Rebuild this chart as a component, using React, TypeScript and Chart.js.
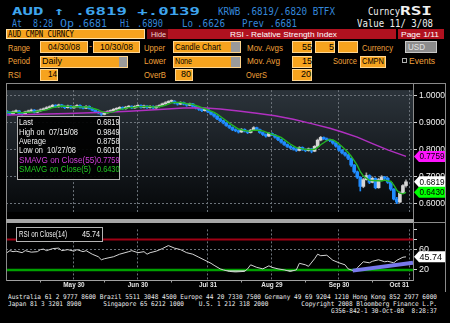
import React, { useEffect, useLayoutEffect, useRef } from "react";
import { Chart, registerables } from "chart.js";

Chart.register(...registerables);

// ---------- data ----------
const opens = [
  0.9430, 0.9390, 0.9330, 0.9410, 0.9440, 0.9350, 0.9320, 0.9400, 0.9430, 0.9470,
  0.9390, 0.9440, 0.9480, 0.9520, 0.9560, 0.9590, 0.9650, 0.9590, 0.9660, 0.9600,
  0.9560, 0.9620, 0.9550, 0.9600, 0.9640, 0.9570, 0.9540, 0.9610, 0.9530, 0.9470,
  0.9400, 0.9370, 0.9310, 0.9370, 0.9420, 0.9450, 0.9500, 0.9520, 0.9570, 0.9520,
  0.9580, 0.9610, 0.9550, 0.9610, 0.9640, 0.9570, 0.9620, 0.9560, 0.9610, 0.9550,
  0.9600, 0.9640, 0.9700, 0.9740, 0.9790, 0.9800, 0.9730, 0.9690, 0.9750, 0.9690,
  0.9650, 0.9700, 0.9610, 0.9550, 0.9500, 0.9450, 0.9490, 0.9400, 0.9320, 0.9250,
  0.9150, 0.9080, 0.9000, 0.8900, 0.8830, 0.8750, 0.8710, 0.8660, 0.8760, 0.8690,
  0.8640, 0.8730, 0.8820, 0.8750, 0.8640, 0.8570, 0.8510, 0.8610, 0.8550, 0.8470,
  0.8380, 0.8290, 0.8200, 0.8130, 0.8080, 0.8030, 0.7980, 0.8090, 0.8010, 0.7970,
  0.8040, 0.7950, 0.8130, 0.8360, 0.8460, 0.8410, 0.8370, 0.8340, 0.8250, 0.8140,
  0.7990, 0.7890, 0.7810, 0.7690, 0.7440, 0.7190, 0.6990, 0.6650, 0.6900, 0.7050,
  0.6800, 0.6950, 0.6600, 0.6900, 0.7000, 0.6950, 0.6800, 0.6550, 0.6180, 0.6070,
  0.6400, 0.6681,
];
const highs = [
  0.9460, 0.9410, 0.9440, 0.9480, 0.9460, 0.9380, 0.9430, 0.9470, 0.9510, 0.9490,
  0.9470, 0.9520, 0.9550, 0.9600, 0.9630, 0.9680, 0.9670, 0.9690, 0.9680, 0.9630,
  0.9650, 0.9640, 0.9630, 0.9670, 0.9660, 0.9600, 0.9640, 0.9630, 0.9550, 0.9490,
  0.9430, 0.9390, 0.9400, 0.9450, 0.9480, 0.9530, 0.9560, 0.9600, 0.9590, 0.9610,
  0.9640, 0.9630, 0.9640, 0.9670, 0.9660, 0.9650, 0.9640, 0.9640, 0.9630, 0.9630,
  0.9670, 0.9730, 0.9780, 0.9820, 0.9849, 0.9820, 0.9750, 0.9780, 0.9770, 0.9710,
  0.9730, 0.9720, 0.9630, 0.9570, 0.9520, 0.9520, 0.9500, 0.9420, 0.9340, 0.9270,
  0.9170, 0.9100, 0.9020, 0.8920, 0.8850, 0.8780, 0.8740, 0.8790, 0.8780, 0.8710,
  0.8760, 0.8860, 0.8840, 0.8770, 0.8660, 0.8590, 0.8640, 0.8630, 0.8570, 0.8490,
  0.8400, 0.8310, 0.8220, 0.8160, 0.8100, 0.8050, 0.8120, 0.8110, 0.8040, 0.8070,
  0.8060, 0.8160, 0.8400, 0.8500, 0.8480, 0.8440, 0.8400, 0.8360, 0.8270, 0.8160,
  0.8010, 0.7920, 0.7840, 0.7710, 0.7460, 0.7220, 0.7010, 0.6950, 0.7150, 0.7080,
  0.7000, 0.6970, 0.6950, 0.7050, 0.7020, 0.6980, 0.6820, 0.6570, 0.6250, 0.6450,
  0.6720, 0.6890,
];
const lows = [
  0.9340, 0.9290, 0.9300, 0.9390, 0.9320, 0.9280, 0.9300, 0.9380, 0.9410, 0.9360,
  0.9370, 0.9420, 0.9460, 0.9500, 0.9530, 0.9570, 0.9560, 0.9570, 0.9570, 0.9520,
  0.9540, 0.9520, 0.9530, 0.9580, 0.9540, 0.9510, 0.9520, 0.9500, 0.9440, 0.9370,
  0.9330, 0.9270, 0.9290, 0.9350, 0.9400, 0.9430, 0.9480, 0.9500, 0.9490, 0.9500,
  0.9560, 0.9520, 0.9530, 0.9590, 0.9540, 0.9550, 0.9530, 0.9540, 0.9520, 0.9530,
  0.9580, 0.9620, 0.9680, 0.9720, 0.9760, 0.9700, 0.9650, 0.9670, 0.9660, 0.9610,
  0.9630, 0.9580, 0.9510, 0.9460, 0.9410, 0.9430, 0.9370, 0.9290, 0.9210, 0.9120,
  0.9040, 0.8960, 0.8870, 0.8790, 0.8710, 0.8670, 0.8620, 0.8640, 0.8660, 0.8600,
  0.8620, 0.8710, 0.8720, 0.8610, 0.8530, 0.8470, 0.8490, 0.8520, 0.8430, 0.8340,
  0.8250, 0.8160, 0.8090, 0.8040, 0.7990, 0.7940, 0.7960, 0.7980, 0.7930, 0.7950,
  0.7890, 0.7930, 0.8110, 0.8330, 0.8380, 0.8330, 0.8300, 0.8210, 0.8100, 0.7950,
  0.7850, 0.7770, 0.7640, 0.7390, 0.7140, 0.6940, 0.6480, 0.6600, 0.6880, 0.6750,
  0.6780, 0.6560, 0.6580, 0.6870, 0.6900, 0.6760, 0.6500, 0.6150, 0.6010, 0.6050,
  0.6380, 0.6626,
];
const closes = [
  0.9390, 0.9330, 0.9410, 0.9440, 0.9350, 0.9320, 0.9400, 0.9430, 0.9470, 0.9390,
  0.9440, 0.9480, 0.9520, 0.9560, 0.9590, 0.9650, 0.9590, 0.9660, 0.9600, 0.9560,
  0.9620, 0.9550, 0.9600, 0.9640, 0.9570, 0.9540, 0.9610, 0.9530, 0.9470, 0.9400,
  0.9370, 0.9310, 0.9370, 0.9420, 0.9450, 0.9500, 0.9520, 0.9570, 0.9520, 0.9580,
  0.9610, 0.9550, 0.9610, 0.9640, 0.9570, 0.9620, 0.9560, 0.9610, 0.9550, 0.9600,
  0.9640, 0.9700, 0.9740, 0.9790, 0.9800, 0.9730, 0.9690, 0.9750, 0.9690, 0.9650,
  0.9700, 0.9610, 0.9550, 0.9500, 0.9450, 0.9490, 0.9400, 0.9320, 0.9250, 0.9150,
  0.9080, 0.9000, 0.8900, 0.8830, 0.8750, 0.8710, 0.8660, 0.8760, 0.8690, 0.8640,
  0.8730, 0.8820, 0.8750, 0.8640, 0.8570, 0.8510, 0.8610, 0.8550, 0.8470, 0.8380,
  0.8290, 0.8200, 0.8130, 0.8080, 0.8030, 0.7980, 0.8090, 0.8010, 0.7970, 0.8040,
  0.7950, 0.8130, 0.8360, 0.8460, 0.8410, 0.8370, 0.8340, 0.8250, 0.8140, 0.7990,
  0.7890, 0.7810, 0.7690, 0.7440, 0.7190, 0.6990, 0.6650, 0.6900, 0.7050, 0.6800,
  0.6950, 0.6600, 0.6900, 0.7000, 0.6950, 0.6800, 0.6550, 0.6180, 0.6070, 0.6400,
  0.6681, 0.6819,
];
// first four points of the 5-day average (history before the range)
const sma5Lead = [0.9395, 0.9385, 0.9380, 0.9385];
// 55-day average
const sma55Days = [0, 10, 20, 30, 40, 50, 58, 64, 70, 76, 82, 88, 94, 100, 106, 110, 115, 120, 125, 131];
const sma55Vals = [0.9290, 0.9320, 0.9345, 0.9380, 0.9425, 0.9490, 0.9545, 0.9560, 0.9510, 0.9440,
  0.9350, 0.9260, 0.9130, 0.8970, 0.8800, 0.8660, 0.8470, 0.8230, 0.8000, 0.7759];
// RSI(14)
const rsiDays = [0, 1, 2, 3, 5, 6, 8, 10, 11, 12, 13, 15, 17, 18, 20, 22, 23, 25, 26, 28, 30, 31, 32, 35,
  37, 40, 41, 43, 45, 46, 47, 49, 51, 53, 55, 57, 59, 61, 63, 65, 67, 68, 70, 71, 73, 75, 78, 79, 80, 82,
  84, 86, 87, 89, 91, 93, 95, 96, 98, 99, 101, 102, 103, 105, 107, 109, 111, 112, 114, 115, 117, 119, 120,
  122, 124, 125, 127, 128, 130, 131];
const rsiVals = [54, 58, 56, 57, 54, 58, 55, 56, 60, 61, 58, 62, 63, 58, 60, 57, 60, 56, 58, 51, 46, 40, 42, 46,
  51, 56, 58, 54, 56, 51, 54, 57, 62, 68, 63, 60, 54, 51, 45, 39, 33, 29, 22, 20, 17, 16, 17, 22, 30, 25,
  22, 28, 25, 22, 20, 17, 20, 33, 30, 27, 42, 51, 48, 49, 39, 34, 30, 22, 18, 24, 36, 34, 37,
  40, 36, 37, 34, 39, 45, 45.74];
const trendDays = [113.5, 133.3];
const trendVals = [18.5, 34];
const overBought = 80;
const overSold = 20;

const monthEndDays = [22, 43, 66, 87, 109, 132];
const monthEndLabels = ["May 30", "Jun 30", "Jul 31", "Aug 29", "Sep 30", "Oct 31"];
const midMonthDays = [11, 32, 54, 77, 98, 120];
const priceTicks = [0.6, 0.7, 0.8, 0.9, 1.0];
const rsiTicks = [20, 60, 80, 100];
const rsiTickLabels = [20, 60];
const rsiDotted = [60];

const infoLabels = ["Last", "High on  07/15/08", "Average", "Low on  10/27/08", "SMAVG on Close(55)", "SMAVG on Close(5)"];
const infoValues = ["0.6819", "0.9849", "0.8758", "0.6010", "0.7759", "0.6430"];

// ---------- layout constants ----------
const X_MIN = -0.3;
const X_MAX = 133.3;
const Y_MIN = 0.5708;
const Y_MAX = 1.0208;
const SANS = '"Liberation Sans", Arial, sans-serif';
const MONO = '"DejaVu Sans Mono", "Liberation Mono", monospace';

const C = {
  bigBlue: "#3ea5ee",
  blue: "#3487da",
  white: "#f0f0f0",
  amber: "#f0a03a",
  box: "#f6a31e",
  boxEdge: "#ffd690",
  red: "#b1111f",
  darkRed: "#780913",
  tail: "#9a9a9a",
  frame: "#8a8a8a",
  grid: "#6c737a",
  up: "#d6d6d6",
  upWick: "#a0a0a0",
  down: "#1f8cff",
  sma5: "#24b424",
  sma55: "#b030c0",
};

// ---------- helpers ----------
type FTProps = { x: number; b: number; w?: number; s: number; c: string; t: string; bold?: boolean; mono?: boolean };
function FT({ x, b, w, s, c, t, bold, mono }: FTProps) {
  const ref = useRef<HTMLSpanElement>(null);
  useLayoutEffect(() => {
    const el = ref.current;
    if (!el || !w) return;
    el.style.transform = "none";
    const nw = el.getBoundingClientRect().width;
    if (nw > 0) el.style.transform = `scaleX(${w / nw})`;
  }, [w, t]);
  return (
    <span
      ref={ref}
      style={{
        position: "absolute",
        left: x,
        top: b - 0.846 * s,
        fontSize: s,
        lineHeight: `${s}px`,
        height: s,
        color: c,
        fontWeight: bold ? 700 : 400,
        fontFamily: mono ? MONO : SANS,
        whiteSpace: "pre",
        transformOrigin: "0 0",
      }}
    >
      {t}
    </span>
  );
}

function Box({ x, y, w, h, bg, edge }: { x: number; y: number; w: number; h: number; bg: string; edge?: string }) {
  return (
    <div
      style={{
        position: "absolute",
        left: x,
        top: y,
        width: w,
        height: h,
        background: bg,
        boxSizing: "border-box",
        border: edge ? `1px solid ${edge}` : "none",
      }}
    />
  );
}

function drawFlag(ctx: CanvasRenderingContext2D, xl: number, xr: number, y: number, bg: string, text: string) {
  const h = 11;
  ctx.save();
  ctx.fillStyle = bg;
  ctx.beginPath();
  ctx.moveTo(xl, y);
  ctx.lineTo(xl + 5, y - h / 2);
  ctx.lineTo(xr, y - h / 2);
  ctx.lineTo(xr, y + h / 2);
  ctx.lineTo(xl + 5, y + h / 2);
  ctx.closePath();
  ctx.fill();
  ctx.fillStyle = "#000";
  ctx.font = `9px ${SANS}`;
  ctx.textBaseline = "middle";
  ctx.textAlign = "left";
  ctx.fillText(text, xl + 5.5, y + 0.5, xr - xl - 6);
  ctx.restore();
}

const monthGrid = {
  type: "linear" as const,
  min: X_MIN,
  max: X_MAX,
  offset: false,
  grid: { color: C.grid, drawTicks: false, offset: false },
  border: { display: false, dash: [2, 2] },
  ticks: { display: false },
  afterBuildTicks: (s: any) => {
    s.ticks = monthEndDays.map((v) => ({ value: v }));
  },
};

// ---------- price panel ----------
function PriceChart() {
  const ref = useRef<HTMLCanvasElement>(null);
  useEffect(() => {
    if (!ref.current) return;
    const days = closes.map((_, i) => i);
    const isUp = (i: number) => closes[i] >= opens[i];
    const sma5 = days.map((i) =>
      i < 4 ? sma5Lead[i] : (closes[i] + closes[i - 1] + closes[i - 2] + closes[i - 3] + closes[i - 4]) / 5
    );
    const flags = [
      { v: sma55Vals[sma55Vals.length - 1], bg: "#ff14ff" },
      { v: closes[closes.length - 1], bg: "#ffffff" },
      { v: sma5[sma5.length - 1], bg: "#00ff00" },
    ];
    const chart = new Chart(ref.current, {
      type: "bar",
      data: {
        datasets: [
          {
            type: "line",
            data: days.map((i) => ({ x: i, y: sma5[i] })),
            borderColor: C.sma5,
            borderWidth: 1.4,
            pointRadius: 0,
          } as any,
          {
            type: "line",
            data: sma55Days.map((d, k) => ({ x: d, y: sma55Vals[k] })),
            borderColor: C.sma55,
            borderWidth: 1.5,
            pointRadius: 0,
          } as any,
          {
            type: "bar",
            data: days.map((i) => ({ x: i, y: [opens[i], closes[i]] })),
            backgroundColor: days.map((i) => (isUp(i) ? C.up : C.down)),
            barThickness: 3,
            minBarLength: 1,
            grouped: false,
          } as any,
          {
            type: "bar",
            data: days.map((i) => ({ x: i, y: [lows[i], highs[i]] })),
            backgroundColor: days.map((i) => (isUp(i) ? C.upWick : C.down)),
            barThickness: 1,
            grouped: false,
          } as any,
        ],
      },
      options: {
        animation: false,
        responsive: false,
        maintainAspectRatio: false,
        layout: { padding: { left: 6, top: 1, bottom: 1, right: 0 } },
        plugins: { legend: { display: false }, tooltip: { enabled: false } },
        scales: {
          x: { ...monthGrid, afterFit: (s: any) => { s.height = 0; } } as any,
          y: {
            position: "right",
            min: Y_MIN,
            max: Y_MAX,
            grid: { color: C.grid, drawTicks: true, tickLength: 4, tickColor: "#d0d0d0" },
            border: { display: false, dash: [2, 2] },
            ticks: {
              color: "#f2f2f2",
              font: { size: 8.5, family: SANS },
              padding: 2,
              callback: (v: any) => Number(v).toFixed(4),
            },
            afterBuildTicks: (s: any) => {
              s.ticks = priceTicks.map((v) => ({ value: v }));
            },
            afterFit: (s: any) => {
              s.width = 37;
            },
          } as any,
        },
      },
      plugins: [
        {
          id: "bg",
          beforeDraw(c: any) {
            const { ctx, chartArea } = c;
            const { left, top, right, bottom } = chartArea;
            const g = ctx.createLinearGradient(0, top, 0, bottom);
            g.addColorStop(0, "#2c343b");
            g.addColorStop(0.5, "#181d22");
            g.addColorStop(1, "#06080a");
            ctx.save();
            ctx.fillStyle = g;
            ctx.fillRect(left, top, right - left, bottom - top);
            ctx.restore();
          },
        },
        {
          id: "flags",
          afterDraw(c: any) {
            const { ctx, chartArea, scales } = c;
            flags.forEach((f) => {
              drawFlag(ctx, chartArea.right + 1, 445, scales.y.getPixelForValue(f.v), f.bg, f.v.toFixed(4));
            });
          },
        },
      ],
    });
    return () => chart.destroy();
  }, []);
  return <canvas ref={ref} width={450} height={136} style={{ position: "absolute", left: 0, top: 83 }} />;
}

// ---------- RSI panel ----------
function RsiChart() {
  const ref = useRef<HTMLCanvasElement>(null);
  useEffect(() => {
    if (!ref.current) return;
    const lastRsi = rsiVals[rsiVals.length - 1];
    const chart = new Chart(ref.current, {
      type: "line",
      data: {
        datasets: [
          {
            data: trendDays.map((d, k) => ({ x: d, y: trendVals[k] })),
            borderColor: "#7878ec",
            borderWidth: 4,
            pointRadius: 0,
          },
          {
            data: rsiDays.map((d, k) => ({ x: d, y: rsiVals[k] })),
            borderColor: "#d4d4d4",
            borderWidth: 1,
            pointRadius: 0,
            fill: { target: { value: overSold }, above: "rgba(0,0,0,0)", below: "#86c986" },
          } as any,
          {
            data: [{ x: X_MIN, y: overSold }, { x: X_MAX, y: overSold }],
            borderColor: "#00a000",
            borderWidth: 2.5,
            pointRadius: 0,
          },
          {
            data: [{ x: X_MIN, y: overBought }, { x: X_MAX, y: overBought }],
            borderColor: "#a00014",
            borderWidth: 2,
            pointRadius: 0,
          },
        ],
      },
      options: {
        animation: false,
        responsive: false,
        maintainAspectRatio: false,
        layout: { padding: { left: 6, top: 2, bottom: 0, right: 0 } },
        plugins: { legend: { display: false }, tooltip: { enabled: false } },
        scales: {
          x: {
            ...monthGrid,
            border: { display: true, color: "#a0a0a0", width: 1, dash: [2, 2] },
            afterFit: (s: any) => {
              s.height = 12;
            },
          } as any,
          y: {
            position: "right",
            min: 0,
            max: 100,
            grid: {
              color: (ctx: any) => (rsiDotted.includes(ctx.tick?.value) ? C.grid : "rgba(0,0,0,0)"),
              drawTicks: true,
              tickLength: 4,
              tickColor: "#d0d0d0",
            },
            border: { display: false, dash: [2, 2] },
            ticks: {
              color: "#f2f2f2",
              font: { size: 9, family: SANS },
              padding: 2,
              callback: (v: any) => (rsiTickLabels.includes(Number(v)) ? String(v) : ""),
            },
            afterBuildTicks: (s: any) => {
              s.ticks = rsiTicks.map((v) => ({ value: v }));
            },
            afterFit: (s: any) => {
              s.width = 37;
            },
          } as any,
        },
      },
      plugins: [
        {
          id: "labels",
          afterDraw(c: any) {
            const { ctx, chartArea, scales } = c;
            const xs = scales.x;
            ctx.save();
            ctx.font = `bold 8px ${SANS}`;
            ctx.fillStyle = "#e4e4e4";
            ctx.textBaseline = "middle";
            ctx.textAlign = "left";
            monthEndDays.forEach((d, k) => {
              const px = xs.getPixelForValue(d);
              const w = ctx.measureText(monthEndLabels[k]).width * 0.8;
              let left = px - w / 2;
              if (left + w > chartArea.right - 2) left = px - w;
              ctx.save();
              ctx.translate(left, chartArea.bottom + 5);
              ctx.scale(0.8, 1);
              ctx.fillText(monthEndLabels[k], 0, 0);
              ctx.restore();
            });
            ctx.strokeStyle = "#a0a0a0";
            ctx.lineWidth = 1;
            midMonthDays.forEach((d) => {
              const px = Math.round(xs.getPixelForValue(d)) + 0.5;
              ctx.beginPath();
              ctx.moveTo(px, chartArea.bottom);
              ctx.lineTo(px, chartArea.bottom + 2.5);
              ctx.stroke();
            });
            ctx.restore();
            drawFlag(ctx, chartArea.right + 1, 445, scales.y.getPixelForValue(lastRsi), "#ffffff", lastRsi.toFixed(2));
          },
        },
      ],
    });
    return () => chart.destroy();
  }, []);
  return <canvas ref={ref} width={450} height={70} style={{ position: "absolute", left: 0, top: 222 }} />;
}

// ---------- page ----------
const row2Blue: [string, number, number][] = [
  ["At", 12, 10],
  ["8:28", 33, 20],
  ["Op", 60, 14],
  [".6681", 77, 30],
  ["Hi", 120, 10],
  [".6890", 137, 26],
  ["Lo", 182, 11],
  [".6626", 197, 28],
  ["Prev .6681", 242, 55],
];
const infoBaselines = [125.5, 134.8, 144.2, 153.6, 163, 172.4];
const infoWidths = [14, 59, 27, 57, 78, 72];
const infoColors = [C.white, C.white, C.white, C.white, "#d040d8", "#22c822"];

export default function App() {
  useEffect(() => {
    document.body.style.margin = "0";
    document.body.style.background = "#000";
  }, []);
  const lbl = (t: string, x: number, b: number, w: number) => <FT x={x} b={b} w={w} s={9} c={C.amber} t={t} />;
  const boxText = (t: string, x: number, b: number, w: number, c = "#000") => <FT x={x} b={b} w={w} s={9} c={c} t={t} />;
  return (
    <div
      style={{
        position: "fixed",
        left: 0,
        top: 0,
        width: 450,
        height: 323,
        background: "#000",
        overflow: "hidden",
      }}
    >
      {/* row 1 */}
      <FT x={12} b={15} w={188} s={11} c={C.bigBlue} bold mono t="AUD ↑ .6819 +.0139" />
      <FT x={218} b={15} w={117} s={10} c={C.blue} mono t="KRWB .6819/.6820 BTFX" />
      <FT x={368} b={15} w={32} s={10} c={C.white} mono t="Curncy" />
      <FT x={400} b={15.5} w={32} s={12} c={C.white} bold mono t="RSI" />
      {/* row 2 */}
      {row2Blue.map(([t, x, w]) => (
        <FT key={t + x} x={x} b={27} w={w} s={10} c={C.blue} mono t={t} />
      ))}
      <FT x={357} b={27} w={76} s={10} c={C.white} mono t="Value 11/ 3/08" />
      {/* row 3 */}
      <Box x={6} y={29} w={139} h={10} bg={C.box} edge="#ffe2a8" />
      <FT x={8} b={37.3} w={66} s={8} c="#000" mono t="AUD CMPN CURNCY" />
      <Box x={147} y={29} w={21} h={10} bg={C.darkRed} />
      <FT x={150.5} b={37.3} w={15} s={8} c="#f4d4d4" t="Hide" />
      <Box x={168} y={29} w={228} h={10} bg={C.red} />
      <FT x={230} b={37.3} w={107} s={8} c="#ffffff" t="RSI - Relative Strength Index" />
      <Box x={398} y={29} w={46} h={10} bg={C.red} />
      <FT x={401} b={37.3} w={38} s={8} c="#ffffff" t="Page 1/11" />
      {/* row 4 */}
      {lbl("Range", 8, 51.5, 22)}
      <Box x={40} y={41} w={48} h={12} bg={C.box} edge={C.boxEdge} />
      {boxText("04/30/08", 48, 50.3, 32)}
      {lbl("-", 89, 50, 3)}
      <Box x={93} y={41} w={47} h={12} bg={C.box} edge={C.boxEdge} />
      {boxText("10/30/08", 100, 50.3, 33)}
      {lbl("Upper", 144, 51.5, 21)}
      <Box x={173} y={41} w={68} h={12} bg={C.box} edge={C.boxEdge} />
      <Box x={231} y={42} w={9} h={10} bg={C.tail} />
      {boxText("Candle Chart", 175, 50.3, 46)}
      {lbl("Mov. Avgs", 247, 51.5, 36)}
      <Box x={292} y={41} w={20} h={12} bg={C.box} edge={C.boxEdge} />
      {boxText("55", 302, 50.3, 10)}
      <Box x={315} y={41} w={20} h={12} bg={C.box} edge={C.boxEdge} />
      {boxText("5", 329, 50.3, 5)}
      <Box x={338} y={41} w={20} h={12} bg={C.box} edge={C.boxEdge} />
      {lbl("Currency", 362, 51.5, 31)}
      <Box x={405} y={41} w={32} h={12} bg="#8c8c8c" edge="#c8c8c8" />
      {boxText("USD", 408, 50.3, 17, "#e4e4e4")}
      {/* row 5 */}
      {lbl("Period", 8, 64.8, 22)}
      <Box x={40} y={55.5} w={88} h={12} bg={C.box} edge={C.boxEdge} />
      <Box x={119} y={56.5} w={8} h={10} bg={C.tail} />
      {boxText("Daily", 42, 64.3, 20)}
      {lbl("Lower", 144, 64.8, 22)}
      <Box x={173} y={55.5} w={68} h={12} bg={C.box} edge={C.boxEdge} />
      <Box x={231} y={56.5} w={9} h={10} bg={C.tail} />
      {boxText("None", 175, 64.3, 17)}
      {lbl("Mov. Avg", 247, 64.8, 33)}
      <Box x={292} y={55.5} w={20} h={12} bg={C.box} edge={C.boxEdge} />
      {boxText("15", 302, 64.3, 10)}
      {lbl("Source", 333, 64.8, 24)}
      <Box x={360} y={55.5} w={26} h={12} bg={C.box} edge={C.boxEdge} />
      {boxText("CMPN", 361.5, 64.3, 22)}
      <div
        style={{
          position: "absolute",
          left: 402,
          top: 58,
          width: 5,
          height: 5,
          border: "1px solid #b0b0b0",
          boxSizing: "border-box",
        }}
      />
      {lbl("Events", 409, 64.8, 26)}
      {/* row 6 */}
      {lbl("RSI", 8, 78.3, 13)}
      <Box x={40} y={69} w={18} h={12} bg={C.box} edge={C.boxEdge} />
      {boxText("14", 48, 77.6, 9)}
      {lbl("OverB", 144, 78.3, 22)}
      <Box x={175} y={69} w={18} h={12} bg={C.box} edge={C.boxEdge} />
      {boxText("80", 181, 77.6, 10)}
      {lbl("OverS", 246, 78.3, 21)}
      <Box x={292} y={69} w={20} h={12} bg={C.box} edge={C.boxEdge} />
      {boxText("20", 301, 77.6, 10)}

      {/* charts */}
      <PriceChart />
      <RsiChart />

      {/* frame */}
      <Box x={6} y={83} w={440} h={1} bg={C.frame} />
      <Box x={6} y={83} w={1} h={198} bg={C.frame} />
      <Box x={413} y={83} w={1} h={198} bg={C.frame} />
      <Box x={445} y={83} w={1} h={209} bg={C.frame} />
      <Box x={6} y={219} w={408} h={4} bg="#a6a6a6" />
      <Box x={413} y={222} w={33} h={1} bg={C.frame} />

      {/* info box */}
      <div
        style={{
          position: "absolute",
          left: 17,
          top: 116,
          width: 103,
          height: 64,
          background: "rgba(0,0,0,0.92)",
          border: "1px solid #b4b4b4",
          boxSizing: "border-box",
        }}
      />
      {infoLabels.map((t, k) => (
        <FT key={t} x={18.5} b={infoBaselines[k]} w={infoWidths[k]} s={8.5} c={infoColors[k]} t={t} />
      ))}
      {infoValues.map((t, k) => (
        <FT key={"v" + k} x={96.5} b={infoBaselines[k]} w={22.5} s={8.5} c={infoColors[k]} t={t} />
      ))}

      {/* RSI label box */}
      <div
        style={{
          position: "absolute",
          left: 16,
          top: 227,
          width: 87,
          height: 15,
          background: "#000",
          border: "1px solid #b4b4b4",
          boxSizing: "border-box",
        }}
      />
      <FT x={18.5} b={238} w={48} s={9} c={C.white} t="RSI on Close(14)" />
      <FT x={82} b={238} w={18} s={9} c={C.white} t={rsiVals[rsiVals.length - 1].toFixed(2)} />

      {/* footer */}
      <FT
        x={8}
        b={299}
        w={429}
        s={6.5}
        c="#ececec"
        mono
        t="Australia 61 2 9777 8600 Brazil 5511 3048 4500 Europe 44 20 7330 7500 Germany 49 69 9204 1210 Hong Kong 852 2977 6000"
      />
      <FT
        x={8}
        b={306.5}
        w={429}
        s={6.5}
        c="#ececec"
        mono
        t="Japan 81 3 3201 8900      Singapore 65 6212 1000    U.S. 1 212 318 2000         Copyright 2008 Bloomberg Finance L.P."
      />
      <FT x={331} b={313} w={106} s={6.5} c="#ececec" mono t="G356-842-1 30-Oct-08  8:28:37" />
    </div>
  );
}
